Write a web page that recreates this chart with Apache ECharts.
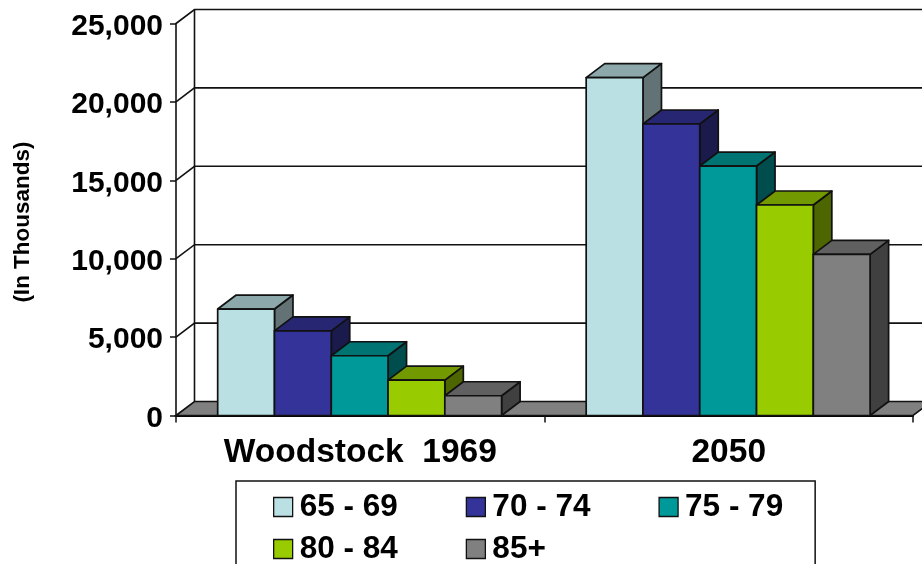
<!DOCTYPE html>
<html>
<head>
<meta charset="utf-8">
<style>html,body{margin:0;padding:0;background:#fff}#chart{width:922px;height:564px}</style>
<script src="https://cdn.jsdelivr.net/npm/echarts@6/dist/echarts.min.js"></script>
</head>
<body>
<div id="chart"></div>
<script>
// Population by age group, in thousands
const categories = ['Woodstock  1969', '2050'];
const ageGroups = ['65 - 69', '70 - 74', '75 - 79', '80 - 84', '85+'];
const age65to69 = [6790, 21550];
const age70to74 = [5400, 18590];
const age75to79 = [3810, 15910];
const age80to84 = [2260, 13425];
const age85plus = [1260, 10280];
const yTicks = [0, 5000, 10000, 15000, 20000, 25000];

const seriesValues = [age65to69, age70to74, age75to79, age80to84, age85plus];
const frontColors = ['#BBE0E3', '#333399', '#009999', '#99CC00', '#808080'];
const topColors = ['#8CA8AA', '#262673', '#007373', '#739900', '#606060'];
const sideColors = ['#637274', '#1A1A4D', '#004D4D', '#4D6600', '#404040'];

const FONT = '"Liberation Sans", Arial, sans-serif';
const INK = '#111';
const DEPTH_X = 18.5;
const DEPTH_Y = 14;
const BAR_SHARE = 0.1541;

// Back wall, floor and the gridlines that wrap round the left side
function renderWall(params, api) {
  const sys = params.coordSys;
  const left = sys.x;
  const right = sys.x + sys.width;
  const tick = api.value(1);
  const y = api.coord([0, tick])[1];
  const stroke = { stroke: INK, lineWidth: 1.6, fill: null };
  const children = [];
  if (tick === 0) {
    children.push({
      type: 'polygon', z2: 1,
      shape: { points: [[left, y], [left + DEPTH_X, y - DEPTH_Y], [right + DEPTH_X, y - DEPTH_Y], [right, y]] },
      style: { fill: '#808080', stroke: INK, lineWidth: 1.6 }
    });
    children.push({
      type: 'line', z2: 2,
      shape: { x1: left + DEPTH_X, y1: y - DEPTH_Y, x2: left + DEPTH_X, y2: sys.y - DEPTH_Y },
      style: stroke
    });
  } else {
    children.push({
      type: 'polyline', z2: 2,
      shape: { points: [[left, y], [left + DEPTH_X, y - DEPTH_Y], [right + DEPTH_X, y - DEPTH_Y]] },
      style: stroke
    });
  }
  return { type: 'group', children };
}

// One extruded bar: front face, top face and right side face
function barRenderer(groupIndex) {
  return function (params, api) {
    const cat = api.value(0);
    const base = api.coord([cat, 0]);
    const top = api.coord([cat, api.value(1)]);
    const w = api.size([1, 0])[0] * BAR_SHARE;
    const x0 = base[0] + (groupIndex - 2.5) * w - 0.6;
    const x1 = x0 + w;
    const y0 = top[1];
    const y1 = base[1];
    const line = { stroke: INK, lineWidth: 1.7, lineJoin: 'round' };
    return {
      type: 'group',
      children: [
        {
          type: 'polygon',
          shape: { points: [[x1, y0], [x1 + DEPTH_X, y0 - DEPTH_Y], [x1 + DEPTH_X, y1 - DEPTH_Y], [x1, y1]] },
          style: Object.assign({ fill: sideColors[groupIndex] }, line)
        },
        {
          type: 'polygon',
          shape: { points: [[x0, y0], [x0 + DEPTH_X, y0 - DEPTH_Y], [x1 + DEPTH_X, y0 - DEPTH_Y], [x1, y0]] },
          style: Object.assign({ fill: topColors[groupIndex] }, line)
        },
        {
          type: 'rect',
          shape: { x: x0, y: y0, width: w, height: y1 - y0 },
          style: Object.assign({ fill: frontColors[groupIndex] }, line)
        }
      ]
    };
  };
}

const legendBase = {
  orient: 'horizontal',
  itemWidth: 19,
  itemHeight: 19,
  itemGap: 68,
  icon: 'rect',
  selectedMode: false,
  itemStyle: { borderColor: INK, borderWidth: 1.3 },
  textStyle: { fontFamily: FONT, fontWeight: 'bold', fontSize: 31.5, color: '#000', padding: [0, 0, 0, 2] }
};

const chart = echarts.init(document.getElementById('chart'), null, { renderer: 'canvas' });
chart.setOption({
  animation: false,
  backgroundColor: '#fff',
  grid: { left: 176, right: 9, top: 23.5, bottom: 148.5, containLabel: false },
  xAxis: {
    type: 'category',
    data: categories,
    axisLine: { lineStyle: { color: '#000', width: 2.2 } },
    axisTick: { show: true, length: 7, lineStyle: { color: INK, width: 1.5 } },
    axisLabel: { fontFamily: FONT, fontWeight: 'bold', fontSize: 33.5, color: '#000', margin: 20 }
  },
  yAxis: {
    type: 'value',
    min: 0,
    max: 25000,
    interval: 5000,
    name: '(In Thousands)',
    nameLocation: 'middle',
    nameRotate: 90,
    nameGap: 142,
    nameTextStyle: { fontFamily: FONT, fontWeight: 'bold', fontSize: 22.5, color: '#000', padding: [0, 5, 0, 0] },
    axisLine: { show: true, lineStyle: { color: INK, width: 1.6 } },
    axisTick: { show: true, length: 6, lineStyle: { color: INK, width: 1.5 } },
    splitLine: { show: false },
    axisLabel: {
      margin: 13,
      formatter: v => '{n|' + v.toLocaleString('en-US') + '}',
      rich: { n: { fontFamily: FONT, fontWeight: 'bold', fontSize: 30, color: '#000', padding: [6, 0, 0, 0] } }
    }
  },
  legend: [
    Object.assign({}, legendBase, {
      data: ageGroups.slice(0, 3),
      left: 236,
      top: 481,
      padding: [10, 32, 90, 37],
      borderColor: INK,
      borderWidth: 1.5,
      backgroundColor: '#fff'
    }),
    Object.assign({}, legendBase, {
      data: ageGroups.slice(3),
      left: 236,
      top: 533,
      padding: [0, 0, 0, 37],
      z: 5
    })
  ],
  series: [
    {
      type: 'custom',
      silent: true,
      z: 1,
      renderItem: renderWall,
      data: yTicks.map(t => [0, t])
    }
  ].concat(ageGroups.map((name, i) => ({
    name,
    type: 'custom',
    z: 2,
    itemStyle: { color: frontColors[i] },
    renderItem: barRenderer(i),
    data: seriesValues[i].map((v, c) => [c, v])
  })))
});
</script>
</body>
</html>
